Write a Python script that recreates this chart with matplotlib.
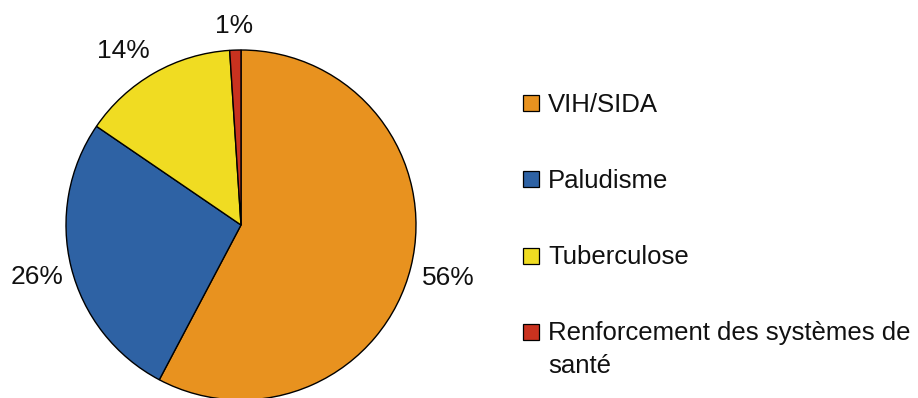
import numpy as np
import matplotlib.pyplot as plt
from matplotlib.patches import Rectangle

plt.rcParams["font.family"] = ["Liberation Sans", "DejaVu Sans"]

categories = ["VIH/SIDA", "Paludisme", "Tuberculose",
              "Renforcement des systèmes de\nsanté"]
shares = [56, 26, 14, 1]
colors = ["#E8921F", "#2E62A4", "#F0DC22", "#C9321F"]

W, H = 918, 398
fig = plt.figure(figsize=(W / 100, H / 100), dpi=100)

# pie centred at (241, 225) px, radius 175 px
cx, cy, r = 241, 225, 175
ax = fig.add_axes([(cx - r) / W, (H - cy - r) / H, 2 * r / W, 2 * r / H])
wedges, _ = ax.pie(
    shares,
    colors=colors,
    startangle=90,
    counterclock=False,
    wedgeprops=dict(edgecolor="black", linewidth=1.0),
)
ax.set_xlim(-1, 1)
ax.set_ylim(-1, 1)
ax.axis("off")

# percentage labels just outside each wedge
label_dist = [1.22, 1.20, 1.21, 1.15]
label_nudge = [0, 0, 4, 0]  # degrees
for w, v, d, n in zip(wedges, shares, label_dist, label_nudge):
    mid = np.radians((w.theta1 + w.theta2) / 2 + n)
    ax.text(d * np.cos(mid), d * np.sin(mid) - 0.01, f"{v}%", fontsize=19,
            color="#111111", ha="center", va="center", clip_on=False)

# legend drawn by hand so the marker sits on the first text line
box = 16
y0, step, line_gap = 103, 76.3, 33
for i, (name, c) in enumerate(zip(categories, colors)):
    yc = y0 + i * step
    fig.patches.append(Rectangle((523 / W, (H - yc - box / 2) / H), box / W, box / H,
                                 transform=fig.transFigure, facecolor=c,
                                 edgecolor="black", linewidth=0.9))
    for k, line in enumerate(name.split("\n")):
        fig.text(548 / W, (H - yc - 8.5 - k * line_gap) / H, line, fontsize=18.5,
                 color="#111111", ha="left", va="baseline")

fig.savefig("out.png", dpi=100)
